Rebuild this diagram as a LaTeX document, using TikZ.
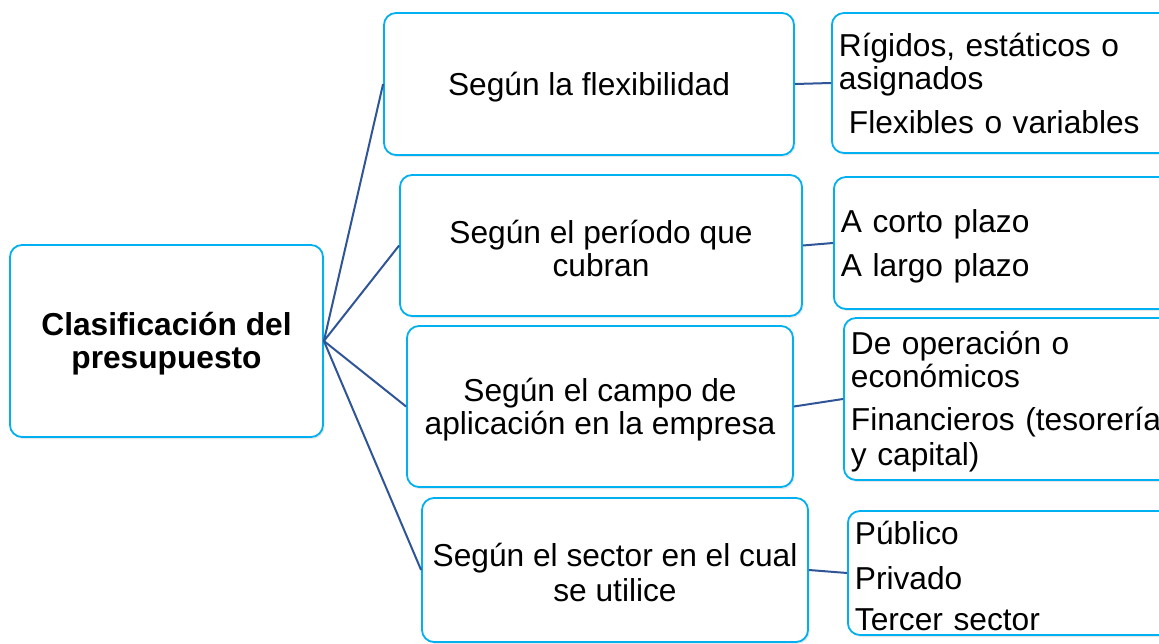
\documentclass[tikz,border=0pt]{standalone}
\usepackage{fontspec}
\setmainfont{Liberation Sans}
\usetikzlibrary{shadows}
\definecolor{boxline}{RGB}{0,176,240}
\definecolor{linkline}{RGB}{47,85,151}
\newcommand{\textlift}{\rule{0pt}{29pt}}

\begin{document}
\begin{tikzpicture}[x=1pt,y=-1pt,
		box/.style={draw=boxline, line width=1.8pt, rounded corners=12pt, fill=white,
			drop shadow={opacity=0.18, shadow xshift=1.5pt, shadow yshift=-2pt},
			font=\fontsize{31.7}{33}\selectfont, inner sep=0pt},
		midbox/.style={box, align=center},
		subbox/.style={box, anchor=west, align=left, inner xsep=7pt},
		link/.style={draw=linkline, line width=2pt}]
		\useasboundingbox (0,0) rectangle (1159,644);
		\clip (0,0) rectangle (1159,644);

		\node [midbox, minimum width=313pt, minimum height=192pt, font=\fontsize{31.7}{33}\selectfont\bfseries]
			(root) at (166.5,341) {\textlift Clasificación del\\presupuesto};

		\node [midbox, minimum width=410pt, minimum height=142pt] (flex) at (589,84) {\textlift Según la flexibilidad};
		\node [midbox, minimum width=402pt, minimum height=141pt] (period) at (601,245.5) {\textlift Según el período que\\cubran};
		\node [midbox, minimum width=386pt, minimum height=161pt] (field) at (600,406.5) {\textlift Según el campo de\\aplicación en la empresa};
		\node [midbox, minimum width=386pt, minimum height=144pt] (sector) at (615,570) {\textlift Según el sector en el cual\\[2pt]se utilice};

		\node [subbox, text width=330pt, minimum height=140pt] (flexsub) at (831,83)
			{Rígidos, estáticos o\\asignados\\[11pt]\hspace*{10pt}Flexibles o variables};
		\node [subbox, text width=328pt, minimum height=132pt] (periodsub) at (833,243)
			{\textlift A corto plazo\\[11pt]A largo plazo};
		\node [subbox, text width=343pt, minimum height=162pt] (fieldsub) at (843,399)
			{\textlift De operación o\\económicos\\[10pt]Financieros (tesorería\\[2pt]y capital)};
		\node [subbox, text width=314pt, minimum height=124pt] (sectorsub) at (847,573)
			{\textlift Público\\[12pt]Privado\\[8pt]Tercer sector};

		\draw [link] (root.east) -- (flex.west);
		\draw [link] (root.east) -- (period.west);
		\draw [link] (root.east) -- (field.west);
		\draw [link] (root.east) -- (sector.west);

		\draw [link] (flex.east) -- (flexsub.west);
		\draw [link] (period.east) -- (periodsub.west);
		\draw [link] (field.east) -- (fieldsub.west);
		\draw [link] (sector.east) -- (sectorsub.west);
	\end{tikzpicture}
\end{document}
